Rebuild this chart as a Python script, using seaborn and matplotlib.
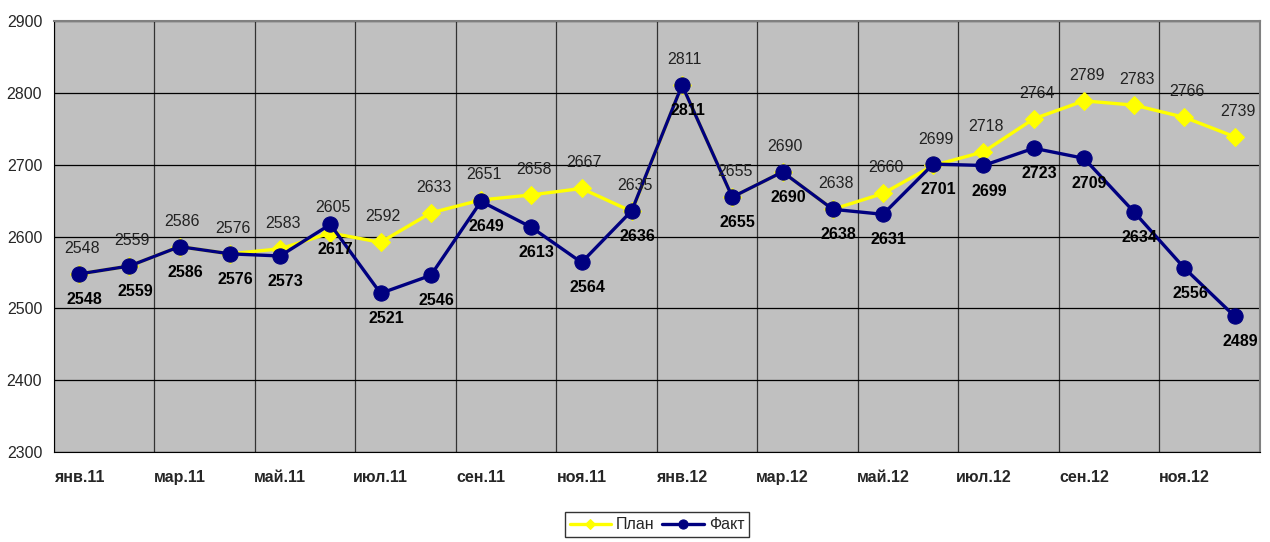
import numpy as np
import pandas as pd
import matplotlib
matplotlib.use("Agg")
import matplotlib.pyplot as plt
import seaborn as sns

months = ["янв.11", "фев.11", "мар.11", "апр.11", "май.11", "июн.11",
          "июл.11", "авг.11", "сен.11", "окт.11", "ноя.11", "дек.11",
          "янв.12", "фев.12", "мар.12", "апр.12", "май.12", "июн.12",
          "июл.12", "авг.12", "сен.12", "окт.12", "ноя.12", "дек.12"]
plan = [2548, 2559, 2586, 2576, 2583, 2605, 2592, 2633, 2651, 2658, 2667, 2635,
        2811, 2655, 2690, 2638, 2660, 2699, 2718, 2764, 2789, 2783, 2766, 2739]
fact = [2548, 2559, 2586, 2576, 2573, 2617, 2521, 2546, 2649, 2613, 2564, 2636,
        2811, 2655, 2690, 2638, 2631, 2701, 2699, 2723, 2709, 2634, 2556, 2489]

sns.set_style("white")
plt.rcParams["font.family"] = ["Liberation Sans", "DejaVu Sans"]

x = np.arange(len(months))
df = pd.DataFrame({"x": x, "План": plan, "Факт": fact})

fig = plt.figure(figsize=(12.7, 5.42), dpi=100)
ax = fig.add_axes([0.0425, 0.166, 0.9495, 0.795])
ax.set_facecolor("#C0C0C0")

sns.lineplot(data=df, x="x", y="План", ax=ax, color="#FFFF00", lw=2.4,
             marker="D", markersize=9, markeredgecolor="#FFFF00", label="План")
sns.lineplot(data=df, x="x", y="Факт", ax=ax, color="#000080", lw=2.4,
             marker="o", markersize=11, markeredgecolor="#000080", label="Факт")

for i, v in enumerate(plan):
    ax.annotate(str(v), (i, v), xytext=(2, 13), textcoords="offset points",
                ha="center", va="bottom", fontsize=11.5, color="#222222")
for i, v in enumerate(fact):
    ax.annotate(str(v), (i, v), xytext=(4, -13), textcoords="offset points",
                ha="center", va="top", fontsize=11.5, fontweight="bold", color="black")

ax.set_xlim(-0.5, len(months) - 0.5)
ax.set_ylim(2300, 2900)
ax.set_yticks(range(2300, 2901, 100))
ax.set_xticks(x[::2])
ax.set_xticklabels(months[::2], fontweight="bold", fontsize=11.5)
ax.set_xticks(np.arange(-0.5, len(months), 2), minor=True)
ax.tick_params(axis="x", which="major", length=0, pad=13)
ax.tick_params(axis="x", which="minor", length=5, color="#555555", direction="out")
ax.tick_params(axis="y", length=5, direction="out", labelsize=11.5, color="black")
ax.grid(axis="y", color="black", lw=0.9)
ax.grid(axis="x", which="minor", color="#333333", lw=0.9)
ax.set_axisbelow(True)
ax.set_xlabel("")
ax.set_ylabel("")

for s in ["top", "right"]:
    ax.spines[s].set_color("#808080")
    ax.spines[s].set_linewidth(1.5)
ax.spines["left"].set_color("black")
ax.spines["bottom"].set_color("black")

ax.legend(loc="upper center", bbox_to_anchor=(0.5, -0.14), ncol=2, frameon=True,
          fancybox=False, edgecolor="black", fontsize=11.5, handlelength=2.6,
          markerscale=0.6, columnspacing=0.5, handletextpad=0.3, borderpad=0.3,
          borderaxespad=0)

fig.savefig("out.png", dpi=100, facecolor="white")
